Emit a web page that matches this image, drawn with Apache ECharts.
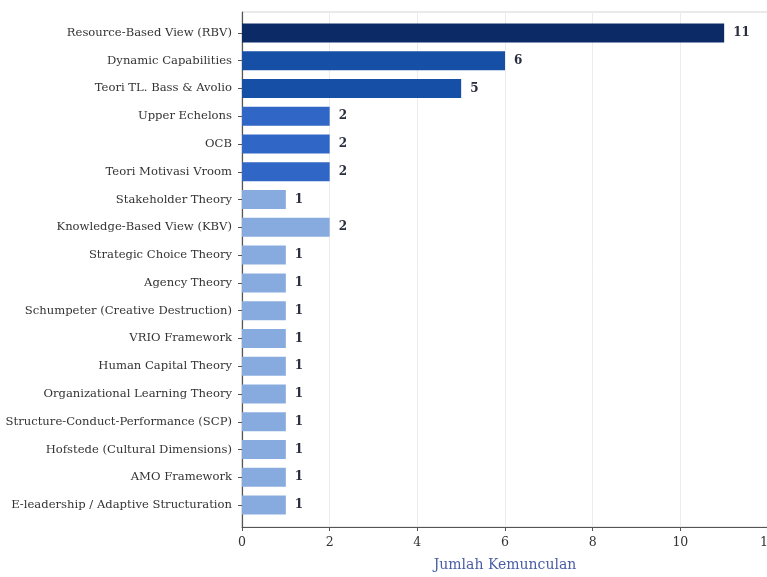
<!DOCTYPE html>
<html>
<head>
<meta charset="utf-8">
<script src="https://cdn.jsdelivr.net/npm/echarts@6/dist/echarts.min.js"></script>
<style>
  html, body { margin: 0; padding: 0; background: #ffffff; }
  #chart { width: 767px; height: 577px; }
</style>
</head>
<body>
<div id="chart"></div>
<script>
// Theories and how often each one appears
const theories = [
  'Resource-Based View (RBV)',
  'Dynamic Capabilities',
  'Teori TL. Bass & Avolio',
  'Upper Echelons',
  'OCB',
  'Teori Motivasi Vroom',
  'Stakeholder Theory',
  'Knowledge-Based View (KBV)',
  'Strategic Choice Theory',
  'Agency Theory',
  'Schumpeter (Creative Destruction)',
  'VRIO Framework',
  'Human Capital Theory',
  'Organizational Learning Theory',
  'Structure-Conduct-Performance (SCP)',
  'Hofstede (Cultural Dimensions)',
  'AMO Framework',
  'E-leadership / Adaptive Structuration'
];
const counts = [11, 6, 5, 2, 2, 2, 1, 2, 1, 1, 1, 1, 1, 1, 1, 1, 1, 1];

// x-axis ticks
const xTicks = [0, 2, 4, 6, 8, 10, 12];
const xTitle = 'Jumlah Kemunculan';

// Bar shading, one per theory
const barColors = [
  '#0b2a66', '#1550a6', '#1550a6', '#3067c6', '#3067c6', '#3067c6',
  '#88abdf', '#88abdf', '#88abdf', '#88abdf', '#88abdf', '#88abdf',
  '#88abdf', '#88abdf', '#88abdf', '#88abdf', '#88abdf', '#88abdf'
];

const serif = '"DejaVu Serif", "Liberation Serif", serif';
const chart = echarts.init(document.getElementById('chart'), null, { renderer: 'canvas' });

chart.setOption({
  backgroundColor: '#ffffff',
  animation: false,
  grid: [
    // frame, ticks and gridlines
    { left: 242, width: 526, top: 12, height: 515, outerBoundsMode: 'none', containLabel: false,
      show: true, borderColor: '#d4d4d4', borderWidth: 1, backgroundColor: 'transparent' },
    // bars
    { left: 242, width: 526, top: 19, height: 500, outerBoundsMode: 'none', containLabel: false }
  ],
  xAxis: [
    {
      gridIndex: 0, type: 'value',
      min: xTicks[0], max: xTicks[xTicks.length - 1], interval: xTicks[1] - xTicks[0],
      axisLine: { show: true, lineStyle: { color: '#555555', width: 1.2 } },
      axisTick: { show: true, length: 4, lineStyle: { color: '#555555' } },
      axisLabel: { color: '#333333', fontFamily: serif, fontSize: 12.5, margin: 9 },
      splitLine: { show: true, lineStyle: { color: '#ececec', width: 1 } },
      name: xTitle, nameLocation: 'middle', nameGap: 31,
      nameTextStyle: { color: '#4a5ea6', fontFamily: serif, fontSize: 14 }
    },
    {
      gridIndex: 1, type: 'value',
      min: xTicks[0], max: xTicks[xTicks.length - 1],
      show: false
    }
  ],
  yAxis: [
    {
      gridIndex: 0, type: 'value', min: 0, max: 1,
      axisLine: { show: true, lineStyle: { color: '#555555', width: 1.2 } },
      axisTick: { show: false }, axisLabel: { show: false }, splitLine: { show: false }
    },
    {
      gridIndex: 1, type: 'category', data: theories, inverse: true,
      axisLine: { show: false },
      axisTick: { show: true, alignWithLabel: true, length: 4, lineStyle: { color: '#555555' } },
      axisLabel: { color: '#333333', fontFamily: serif, fontSize: 11.6, margin: 10 },
      splitLine: { show: false }
    }
  ],
  series: [
    {
      type: 'bar', xAxisIndex: 1, yAxisIndex: 1,
      barWidth: 19,
      data: counts.map((v, i) => ({ value: v, itemStyle: { color: barColors[i] } })),
      label: {
        show: true, position: 'right', distance: 9,
        color: '#2a2d3e', fontFamily: serif, fontWeight: 'bold', fontSize: 12
      }
    }
  ]
});
</script>
</body>
</html>
